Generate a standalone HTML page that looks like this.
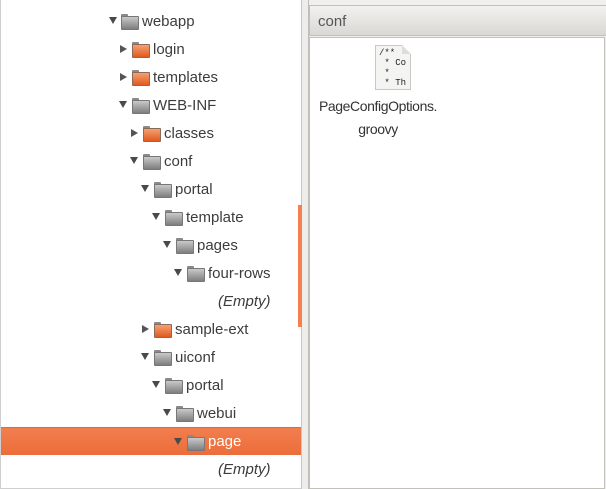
<!DOCTYPE html>
<html><head><meta charset="utf-8"><style>
*{margin:0;padding:0;box-sizing:border-box}
body{width:606px;height:489px;background:#f0efed;position:relative;overflow:hidden;font-family:"Liberation Sans",sans-serif;font-size:15px;color:#3c3c3c}
#left{position:absolute;left:0;top:0;width:302px;height:489px;background:#fff;border-left:1px solid #cfcfcf;border-bottom:1px solid #cfcfcf;border-right:1px solid #c8c6c2}
.row{position:absolute;left:0;height:28px;width:300px}
.sel{background:linear-gradient(#f27e4e,#ec6d3b);border-top:1px solid #e0693a}
.arr{position:absolute;top:9px;width:0;height:0}
.down{border-left:4px solid transparent;border-right:4px solid transparent;border-top:7px solid #4a4a4a;top:10px}
.right{border-top:4px solid transparent;border-bottom:4px solid transparent;border-left:7px solid #555;top:10px}
.fold{position:absolute;top:7px;width:16px;height:14px}
.fold:before{content:"";position:absolute;left:0;top:0;width:7px;height:3px;border-radius:1px 1px 0 0}
.fold:after{content:"";position:absolute;left:0;top:2px;width:16px;height:12px;border-radius:1px}
.g:before{background:#8a8a8a}.g:after{background:linear-gradient(#c9c9c9,#7e7e7e);border:1px solid #777}
.o:before{background:#8a8a8a}.o:after{background:linear-gradient(#f6a070,#e05a20);border:1px solid #8a6a5a}
.t{position:absolute;top:6px;white-space:nowrap}
.e{font-style:italic}
#sb{position:absolute;left:298px;top:205px;width:4px;height:122px;background:#f4804d}
#split{position:absolute;left:302px;top:0;width:7px;height:489px;background:#eeedeb;border-right:1px solid #bfbdb9}
#hdr{position:absolute;left:309px;top:5px;width:297px;height:31px;background:linear-gradient(#f2f1ef,#dad8d4);border:1px solid #c2c0bc;border-right:none}
#hdr span{position:absolute;left:8px;top:7px;color:#555;font-size:15px}
#body{position:absolute;left:309px;top:37px;width:296px;height:452px;background:#fff;border:1px solid #c2c0bc}
#icon{position:absolute;left:375px;top:45px;width:36px;height:45px;background:#f4f4f2;border:1px solid #c8c8c8;font-family:"Liberation Mono",monospace;font-size:9px;line-height:10px;padding:2px 3px;color:#222}
#icon:after{content:"";position:absolute;right:-1px;top:-1px;border-style:solid;border-width:0 9px 9px 0;border-color:#fff #fff #ddd #ddd}
#fname{position:absolute;left:313px;top:95px;width:130px;text-align:center;line-height:23px;font-size:14px;letter-spacing:-0.4px;color:#333}
</style></head><body>
<div id="left">
<div class="row" style="top:7px"><div class="arr down" style="left:108px"></div><div class="fold g" style="left:120px"></div><div class="t" style="left:141px">webapp</div></div>
<div class="row" style="top:35px"><div class="arr right" style="left:119px"></div><div class="fold o" style="left:131px"></div><div class="t" style="left:152px">login</div></div>
<div class="row" style="top:63px"><div class="arr right" style="left:119px"></div><div class="fold o" style="left:131px"></div><div class="t" style="left:152px">templates</div></div>
<div class="row" style="top:91px"><div class="arr down" style="left:118px"></div><div class="fold g" style="left:131px"></div><div class="t" style="left:152px">WEB-INF</div></div>
<div class="row" style="top:119px"><div class="arr right" style="left:130px"></div><div class="fold o" style="left:142px"></div><div class="t" style="left:163px">classes</div></div>
<div class="row" style="top:147px"><div class="arr down" style="left:129px"></div><div class="fold g" style="left:142px"></div><div class="t" style="left:163px">conf</div></div>
<div class="row" style="top:175px"><div class="arr down" style="left:140px"></div><div class="fold g" style="left:153px"></div><div class="t" style="left:174px">portal</div></div>
<div class="row" style="top:203px"><div class="arr down" style="left:151px"></div><div class="fold g" style="left:164px"></div><div class="t" style="left:185px">template</div></div>
<div class="row" style="top:231px"><div class="arr down" style="left:162px"></div><div class="fold g" style="left:175px"></div><div class="t" style="left:196px">pages</div></div>
<div class="row" style="top:259px"><div class="arr down" style="left:173px"></div><div class="fold g" style="left:186px"></div><div class="t" style="left:207px">four-rows</div></div>
<div class="row" style="top:287px"><div class="t e" style="left:217px">(Empty)</div></div>
<div class="row" style="top:315px"><div class="arr right" style="left:141px"></div><div class="fold o" style="left:153px"></div><div class="t" style="left:174px">sample-ext</div></div>
<div class="row" style="top:343px"><div class="arr down" style="left:140px"></div><div class="fold g" style="left:153px"></div><div class="t" style="left:174px">uiconf</div></div>
<div class="row" style="top:371px"><div class="arr down" style="left:151px"></div><div class="fold g" style="left:164px"></div><div class="t" style="left:185px">portal</div></div>
<div class="row" style="top:399px"><div class="arr down" style="left:162px"></div><div class="fold g" style="left:175px"></div><div class="t" style="left:196px">webui</div></div>
<div class="row sel" style="top:427px"><div class="arr down" style="left:173px"></div><div class="fold g" style="left:186px"></div><div class="t" style="left:207px;color:#fff;top:5px">page</div></div>
<div class="row" style="top:455px"><div class="t e" style="left:217px">(Empty)</div></div>
</div>
<div id="sb"></div>
<div id="split"></div>
<div id="hdr"><span>conf</span></div>
<div id="body"></div>
<div id="icon">/**<br>&nbsp;* Co<br>&nbsp;*<br>&nbsp;* Th</div>
<div id="fname">PageConfigOptions.<br>groovy</div>
</body></html>
